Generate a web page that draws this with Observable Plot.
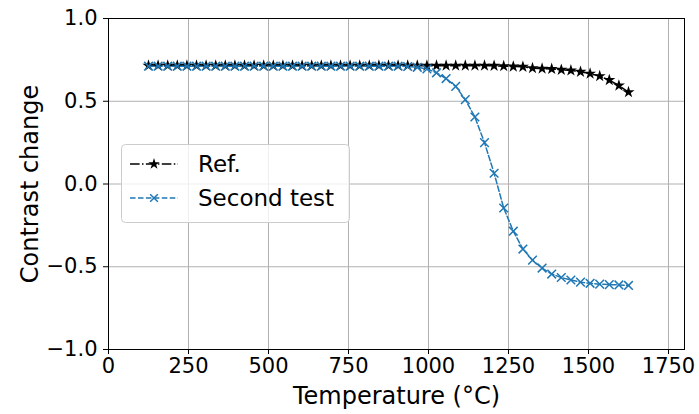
<!DOCTYPE html>
<html>
<head>
<meta charset="utf-8">
<script src="https://cdn.jsdelivr.net/npm/d3@7"></script>
<script src="https://cdn.jsdelivr.net/npm/@observablehq/plot@0.6"></script>
<style>
  html, body { margin: 0; padding: 0; background: white; }
  svg { display: block; }
</style>
</head>
<body>
<div id="chart"></div>
<script>
const temperatures = [125, 155, 185, 215, 245, 275, 305, 335, 365, 395, 425, 455, 485, 515, 545, 575, 605, 635, 665, 695, 725, 755, 785, 815, 845, 875, 905, 935, 965, 995, 1025, 1055, 1085, 1115, 1145, 1175, 1205, 1235, 1265, 1295, 1325, 1355, 1385, 1415, 1445, 1475, 1505, 1535, 1565, 1595, 1625];
const refValues = [0.715, 0.715, 0.715, 0.715, 0.715, 0.715, 0.715, 0.715, 0.715, 0.715, 0.715, 0.715, 0.715, 0.715, 0.715, 0.715, 0.715, 0.715, 0.715, 0.715, 0.715, 0.715, 0.715, 0.715, 0.715, 0.715, 0.715, 0.715, 0.715, 0.715, 0.715, 0.715, 0.715, 0.715, 0.715, 0.715, 0.714, 0.712, 0.71, 0.708, 0.70, 0.697, 0.695, 0.69, 0.686, 0.678, 0.667, 0.652, 0.628, 0.595, 0.555];
const secondValues = [0.712, 0.712, 0.712, 0.712, 0.712, 0.712, 0.712, 0.712, 0.712, 0.712, 0.712, 0.712, 0.712, 0.712, 0.712, 0.712, 0.712, 0.712, 0.712, 0.712, 0.712, 0.712, 0.712, 0.712, 0.712, 0.712, 0.712, 0.71, 0.705, 0.695, 0.672, 0.637, 0.59, 0.51, 0.405, 0.25, 0.065, -0.145, -0.285, -0.393, -0.46, -0.508, -0.544, -0.565, -0.58, -0.593, -0.6, -0.605, -0.608, -0.61, -0.613];
const xTicks = [0, 250, 500, 750, 1000, 1250, 1500, 1750];
const yTicks = [-1.0, -0.5, 0.0, 0.5, 1.0];
const seriesNames = ["Ref.", "Second test"];
const xLabel = "Temperature (°C)";
const yLabel = "Contrast change";

const refData = temperatures.map((t, i) => ({t, v: refValues[i]}));
const secondData = temperatures.map((t, i) => ({t, v: secondValues[i]}));

const blue = "#1f77b4";
const refDash = "9.6,2.4,1.5,2.4";
const secondDash = "5.55,2.4";

const chart = Plot.plot({
  width: 699,
  height: 414,
  marginLeft: 108,
  marginRight: 15,
  marginTop: 18,
  marginBottom: 65,
  style: {fontFamily: "DejaVu Sans", fontSize: "21px", color: "black", background: "white"},
  x: {domain: [0, 1800]},
  y: {domain: [-1, 1]},
  marks: [
    Plot.gridX(xTicks, {stroke: "#b0b0b0", strokeOpacity: 1, strokeWidth: 1}),
    Plot.gridY(yTicks, {stroke: "#b0b0b0", strokeOpacity: 1, strokeWidth: 1}),
    Plot.axisX({ticks: xTicks, tickSize: 5, tickPadding: 4, tickFormat: d3.format("d"), label: null, fontSize: 21, stroke: "black"}),
    Plot.axisY({ticks: yTicks, tickSize: 5, tickPadding: 6, tickFormat: d3.format(".1f"), label: null, fontSize: 21, stroke: "black"}),
    Plot.line(refData, {x: "t", y: "v", stroke: "black", strokeWidth: 1.5, strokeDasharray: refDash}),
    Plot.dot(refData, {x: "t", y: "v", symbol: "star", fill: "black", stroke: "none", r: 3.8}),
    Plot.line(secondData, {x: "t", y: "v", stroke: blue, strokeWidth: 1.5, strokeDasharray: secondDash}),
    Plot.dot(secondData, {x: "t", y: "v", symbol: "times", stroke: blue, strokeWidth: 1.5, r: 4}),
    Plot.frame({stroke: "black", strokeWidth: 1}),
    Plot.text([xLabel], {frameAnchor: "bottom", dy: 47, fontSize: 24, fill: "black", textAnchor: "middle", lineAnchor: "middle"}),
    Plot.text([yLabel], {frameAnchor: "left", dx: -78, rotate: -90, fontSize: 24, fill: "black", textAnchor: "middle", lineAnchor: "middle"})
  ]
});

document.getElementById("chart").appendChild(chart);

// Legend (matplotlib-style box inside the axes)
const svg = d3.select(chart);
const lg = svg.append("g").attr("font-family", "DejaVu Sans").attr("font-size", 23).attr("text-anchor", "start");
lg.append("rect")
  .attr("x", 121.5).attr("y", 144.5).attr("width", 228).attr("height", 78)
  .attr("rx", 4).attr("fill", "white").attr("fill-opacity", 0.8)
  .attr("stroke", "#cccccc").attr("stroke-width", 1);
const entries = [
  {name: seriesNames[0], color: "black", dash: refDash, sym: d3.symbolStar, y: 164, fill: true},
  {name: seriesNames[1], color: blue, dash: secondDash, sym: d3.symbolTimes, y: 198, fill: false}
];
for (const e of entries) {
  lg.append("line").attr("x1", 130).attr("x2", 178).attr("y1", e.y).attr("y2", e.y)
    .attr("stroke", e.color).attr("stroke-width", 1.5).attr("stroke-dasharray", e.dash);
  lg.append("path").attr("transform", `translate(154,${e.y})`)
    .attr("d", d3.symbol(e.sym, 40)())
    .attr("fill", e.fill ? e.color : "none")
    .attr("stroke", e.fill ? "none" : e.color).attr("stroke-width", 1.5);
  lg.append("text").attr("x", 198).attr("y", e.y).attr("dy", "0.35em")
    .attr("text-anchor", "start").attr("fill", "black").text(e.name);
}
</script>
</body>
</html>
